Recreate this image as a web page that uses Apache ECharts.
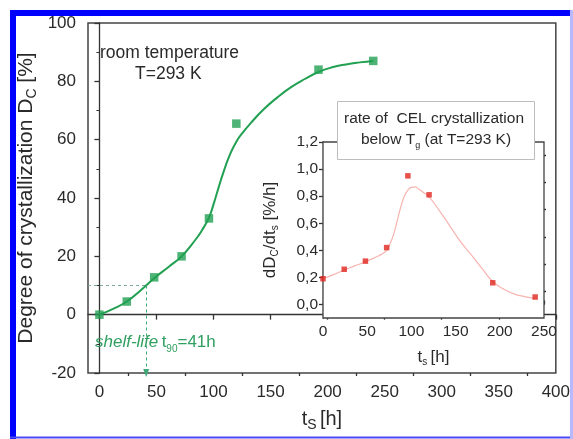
<!DOCTYPE html>
<html>
<head>
<meta charset="utf-8">
<script src="https://cdn.jsdelivr.net/npm/echarts@6/dist/echarts.min.js"></script>
<style>
  html, body { margin: 0; padding: 0; background: #fff; }
  #chart { width: 573px; height: 439px; }
</style>
</head>
<body>
<div id="chart"></div>
<script>
// Degree of crystallization at room temperature (storage time in hours)
const storageHours = [0, 24, 48, 72, 96, 120, 192, 240];
const crystallization = [0, 4.5, 12.8, 20, 33, 65.5, 84, 87];

// Fitted sigmoid
const fitHours = [0, 12, 24, 36, 48, 60, 72, 84, 90, 96, 100, 104, 108, 114, 120, 126, 132, 144, 156, 168, 180, 192, 204, 216, 228, 240];
const fitCrystallization = [0, 2, 4.5, 8.3, 12.5, 16.2, 20, 25.6, 29, 33.3, 37.8, 43, 48, 54.5, 59.3, 62.6, 65.4, 70.4, 74.5, 78, 80.8, 83.2, 84.8, 85.8, 86.5, 87];

// Crystallization rate (inset)
const rateHours = [0, 24, 48, 72, 96, 120, 192, 240];
const rateValues = [0.19, 0.26, 0.32, 0.42, 0.95, 0.81, 0.16, 0.055];
const rateFitHours = [0, 12, 24, 36, 48, 60, 66, 72, 76, 80, 84, 88, 92, 96, 100, 104, 108, 114, 120, 132, 144, 156, 168, 180, 192, 204, 216, 228, 240];
const rateFitValues = [0.19, 0.22, 0.255, 0.285, 0.315, 0.35, 0.37, 0.40, 0.45, 0.52, 0.62, 0.72, 0.80, 0.845, 0.865, 0.868, 0.855, 0.825, 0.795, 0.69, 0.575, 0.46, 0.365, 0.265, 0.17, 0.115, 0.078, 0.058, 0.044];

// Shelf-life: time to reach 10 % crystallinity
const shelfLevel = 10;
const t90 = 41;

// Tick values
const mainXTicks = [0, 50, 100, 150, 200, 250, 300, 350, 400];
const mainXMinor = [25, 75, 125, 175, 225, 275, 325, 375];
const insetYTicks = [0, 0.2, 0.4, 0.6, 0.8, 1.0, 1.2];
const insetYMinor = [0.1, 0.3, 0.5, 0.7, 0.9, 1.1];

const pair = (xs, ys) => xs.map((x, i) => [x, ys[i]]);

const GREEN = '#22a052';
const RED = '#e0261e';
const INK = '#2a2a2a';
const FONT = 'Liberation Sans, Arial, sans-serif';

const chart = echarts.init(document.getElementById('chart'), null, { renderer: 'canvas' });

const axisLineStyle = { color: '#333', width: 1.3 };

chart.setOption({
  animation: false,
  backgroundColor: '#fff',
  textStyle: { fontFamily: FONT, color: INK },
  grid: [
    { left: 88, top: 23, right: 14, bottom: 66, show: true, borderColor: '#444', borderWidth: 1.5, backgroundColor: '#fff', z: 0 },
    { left: 323, top: 142, width: 221, height: 176, show: true, borderColor: '#444', borderWidth: 1.3, backgroundColor: '#fff', z: 1 }
  ],
  xAxis: [
    {
      type: 'value', gridIndex: 0, min: -10, max: 400, position: 'bottom',
      axisLine: { show: true, lineStyle: axisLineStyle },
      axisTick: { show: true, length: 5, customValues: mainXTicks, lineStyle: axisLineStyle },
      axisLabel: { customValues: mainXTicks, fontSize: 17, color: INK, margin: 11, fontFamily: FONT },
      splitLine: { show: false },
      name: '{t|t}{s|S} {t|[h]}', nameLocation: 'middle', nameGap: 33, nameMoveOverlap: false,
      nameTextStyle: { rich: {
        t: { fontSize: 20, color: INK, fontFamily: FONT },
        s: { fontSize: 14, color: INK, fontFamily: FONT, verticalAlign: 'bottom', padding: [12, 0, 0, 0] }
      } }
    },
    {
      type: 'value', gridIndex: 0, min: -10, max: 400, position: 'bottom',
      axisLine: { show: false },
      axisTick: { show: true, length: 3, customValues: mainXMinor, lineStyle: axisLineStyle },
      axisLabel: { show: false },
      splitLine: { show: false }
    },
    {
      type: 'value', gridIndex: 1, min: 0, max: 250, interval: 50,
      axisLine: { show: true, lineStyle: axisLineStyle },
      axisTick: { show: true, inside: true, length: 4, lineStyle: axisLineStyle },
      minorTick: { show: true, splitNumber: 5, length: 2, lineStyle: { color: '#333' } },
      axisLabel: { fontSize: 15.5, color: INK, margin: 6, fontFamily: FONT },
      splitLine: { show: false },
      name: '{t|t}{s|s} {t|[h]}', nameLocation: 'middle', nameGap: 29, nameMoveOverlap: false,
      nameTextStyle: { rich: {
        t: { fontSize: 17, color: INK, fontFamily: FONT },
        s: { fontSize: 10, color: INK, fontFamily: FONT, verticalAlign: 'bottom', padding: [10, 0, 0, 0] }
      } }
    }
  ],
  yAxis: [
    {
      type: 'value', gridIndex: 0, min: -20, max: 100, interval: 20,
      axisLine: { show: true, lineStyle: axisLineStyle },
      axisTick: { show: true, length: 5, lineStyle: axisLineStyle },
      minorTick: { show: true, splitNumber: 2, length: 3, lineStyle: { color: '#333' } },
      axisLabel: { fontSize: 17, color: INK, margin: 12, fontFamily: FONT },
      splitLine: { show: false },
      name: '{t|Degree of crystallization D}{s|C}{t| [%]}', nameLocation: 'middle', nameGap: 49, nameRotate: 90,
      nameMoveOverlap: false,
      nameTextStyle: { rich: {
        t: { fontSize: 21, color: INK, fontFamily: FONT },
        s: { fontSize: 14, color: INK, fontFamily: FONT, verticalAlign: 'bottom', padding: [12, 0, 0, 0] }
      } }
    },
    {
      type: 'value', gridIndex: 1, min: -0.1, max: 1.2,
      axisLine: { show: true, lineStyle: axisLineStyle },
      axisTick: { show: true, length: 4, customValues: insetYTicks, lineStyle: axisLineStyle },
      axisLabel: {
        customValues: insetYTicks, fontSize: 15.5, color: INK, margin: 5, fontFamily: FONT,
        formatter: v => v.toFixed(1).replace('.', ',')
      },
      splitLine: { show: false },
      name: '{t|dD}{s|C}{t|/dt}{s|s}{t| [%/h]}', nameLocation: 'middle', nameGap: 43, nameRotate: 90,
      nameMoveOverlap: false,
      nameTextStyle: { rich: {
        t: { fontSize: 17, color: INK, fontFamily: FONT },
        s: { fontSize: 10, color: INK, fontFamily: FONT, verticalAlign: 'bottom', padding: [10, 0, 0, 0] }
      } }
    },
    {
      type: 'value', gridIndex: 1, min: -0.1, max: 1.2,
      axisLine: { show: false },
      axisTick: { show: true, length: 2, customValues: insetYMinor, lineStyle: axisLineStyle },
      axisLabel: { show: false },
      splitLine: { show: false }
    }
  ],
  series: [
    {
      name: 'fit', type: 'line', xAxisIndex: 0, yAxisIndex: 0,
      data: pair(fitHours, fitCrystallization),
      smooth: 0.5, showSymbol: false, symbol: 'none',
      lineStyle: { color: GREEN, width: 2 }, z: 3
    },
    {
      name: 'Dc', type: 'scatter', xAxisIndex: 0, yAxisIndex: 0,
      data: pair(storageHours, crystallization),
      symbol: 'rect', symbolSize: 8.5, itemStyle: { color: GREEN }, z: 4
    },
    {
      name: 'shelf-life guide', type: 'line', xAxisIndex: 0, yAxisIndex: 0,
      data: [[-10, shelfLevel], [t90, shelfLevel]],
      symbol: 'none', lineStyle: { color: '#7fa8a0', width: 1, type: [3, 3] }, z: 2,
      markLine: {
        silent: true, symbol: ['none', 'triangle'], symbolSize: [6, 8],
        label: { show: false },
        lineStyle: { color: '#3fa877', width: 1, type: [3, 3] },
        data: [[{ coord: [t90, shelfLevel] }, { coord: [t90, -20] }]]
      }
    },
    {
      name: 'rate fit', type: 'line', xAxisIndex: 2, yAxisIndex: 1,
      data: pair(rateFitHours, rateFitValues),
      smooth: 0.5, showSymbol: false, symbol: 'none',
      lineStyle: { color: '#f6b4b0', width: 1.2 }, z: 5
    },
    {
      name: 'rate', type: 'scatter', xAxisIndex: 2, yAxisIndex: 1,
      data: pair(rateHours, rateValues),
      symbol: 'rect', symbolSize: 5.5, itemStyle: { color: RED }, z: 6
    }
  ],
  graphic: [
    // annotations
    { type: 'text', left: 100, top: 44, z: 10, style: { text: 'room temperature', fontSize: 17.5, fill: INK, fontFamily: FONT } },
    { type: 'text', left: 135, top: 65, z: 10, style: { text: 'T=293 K', fontSize: 17.5, fill: INK, fontFamily: FONT } },
    {
      type: 'text', left: 95, top: 334, z: 10,
      style: {
        text: '{i|shelf-life} {n|t}{s|90}{n|=' + t90 + 'h}',
        rich: {
          i: { fontSize: 17, fontStyle: 'italic', fill: '#2fa060', fontFamily: FONT },
          n: { fontSize: 17, fill: '#2fa060', fontFamily: FONT },
          s: { fontSize: 10, fill: '#2fa060', fontFamily: FONT, verticalAlign: 'bottom', padding: [13, 0, 0, 0] }
        }
      }
    },
    // inset title box
    { type: 'rect', z: 20, shape: { x: 337.5, y: 101.5, width: 197, height: 58 }, style: { fill: '#fff', stroke: '#bdbdbd', lineWidth: 1 } },
    { type: 'text', z: 21, x: 434, y: 111, style: { text: 'rate of  CEL crystallization', fontSize: 15.5, fill: INK, align: 'center', fontFamily: FONT } },
    {
      type: 'text', z: 21, x: 436, y: 130,
      style: {
        text: '{n|below T}{s|g}{n| (at T=293 K)}', align: 'center',
        rich: {
          n: { fontSize: 15.5, fill: INK, fontFamily: FONT },
          s: { fontSize: 9, fill: INK, fontFamily: FONT, verticalAlign: 'bottom', padding: [11, 0, 0, 0] }
        }
      }
    },
    // frame
    { type: 'rect', z: 50, shape: { x: 10, y: 10, width: 563, height: 6 }, style: { fill: '#0000ff' } },
    { type: 'rect', z: 50, shape: { x: 10, y: 10, width: 6, height: 429 }, style: { fill: '#0000ff' } },
    { type: 'rect', z: 50, shape: { x: 10, y: 436.5, width: 563, height: 2 }, style: { fill: '#4a4af5' } },
    { type: 'rect', z: 50, shape: { x: 570, y: 10, width: 3, height: 429 }, style: { fill: '#b8b8ff' } }
  ]
});
</script>
</body>
</html>
